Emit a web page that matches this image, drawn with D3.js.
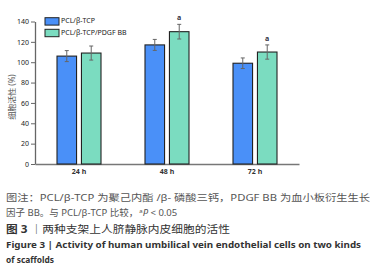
<!DOCTYPE html>
<html>
<head>
<meta charset="utf-8">
<script src="https://cdn.jsdelivr.net/npm/d3@7"></script>
<style>
  body { margin: 0; background: #fff; }
  text { font-family: "Noto Sans", "Noto Sans CJK SC", sans-serif; }
</style>
</head>
<body>
<div id="chart-area"></div>
<script>
// datos del gráfico
var times = ["24 h", "48 h", "72 h"];
var groups = ["PCL/β-TCP", "PCL/β-TCP/PDGF BB"];
var valuesTCP = [106, 117, 99];
var valuesPDGF = [109, 130, 110];
var errTCP = [5.4, 5.4, 5.2];
var errPDGF = [6.9, 7.2, 7.0];
var signif = ["", "a", "a"];
var yTicks = [0, 20, 40, 60, 80, 100, 120, 140];

var colors = ["#4a90f8", "#7bdcc0"];

var width = 382, height = 269;
var svg = d3.select("#chart-area").append("svg")
    .attr("width", width)
    .attr("height", height);

// escalas
var x0 = d3.scaleBand().domain(times).range([35, 299])
    .paddingInner(0.5).paddingOuter(0.25);
var x1 = d3.scaleBand().domain(groups).range([0, x0.bandwidth()])
    .paddingInner(0.2).paddingOuter(0);
var y = d3.scaleLinear().domain([0, 140]).range([164, 21.5]);

var rows = times.map(function(t, i) {
    return [
        { time: t, group: groups[0], value: valuesTCP[i], err: errTCP[i], sig: "" },
        { time: t, group: groups[1], value: valuesPDGF[i], err: errPDGF[i], sig: signif[i] }
    ];
});

// eje Y
var yAxis = svg.append("g")
    .attr("transform", "translate(35,0)")
    .call(d3.axisLeft(y).tickValues(yTicks).tickSizeInner(4).tickSizeOuter(0));
yAxis.select(".domain").attr("stroke", "#666").attr("stroke-width", 1.3);
yAxis.selectAll(".tick line").attr("stroke", "#666");
yAxis.selectAll(".tick text").attr("font-size", 7).attr("fill", "#222").attr("x", -6);

// eje X
var xAxis = svg.append("g")
    .attr("transform", "translate(0,164)")
    .call(d3.axisBottom(x0).tickSize(0));
xAxis.select(".domain").attr("stroke", "#777").attr("stroke-width", 1.3);
xAxis.selectAll(".tick text").attr("font-size", 7).attr("font-weight", "bold")
    .attr("fill", "#333").attr("dy", "0.71em").attr("y", 5);

// etiqueta del eje Y
svg.append("text")
    .attr("transform", "translate(13,97) rotate(-90)")
    .attr("text-anchor", "middle")
    .attr("dominant-baseline", "middle")
    .attr("font-size", 8)
    .attr("fill", "#555")
    .text("细胞活性 (%)");

// barras
var g = svg.selectAll(".grp").data(rows).enter().append("g")
    .attr("class", "grp")
    .attr("transform", function(d) { return "translate(" + x0(d[0].time) + ",0)"; });

g.selectAll("rect").data(function(d) { return d; }).enter().append("rect")
    .attr("x", function(d) { return x1(d.group); })
    .attr("y", function(d) { return y(d.value); })
    .attr("width", x1.bandwidth())
    .attr("height", function(d) { return y(0) - y(d.value); })
    .attr("fill", function(d, i) { return colors[i]; })
    .attr("stroke", "#222")
    .attr("stroke-width", 1.1);

// barras de error
var eb = g.selectAll(".err").data(function(d) { return d; }).enter().append("g")
    .attr("class", "err")
    .attr("stroke", "#666")
    .attr("stroke-width", 1);
eb.append("line")
    .attr("x1", function(d) { return x1(d.group) + x1.bandwidth() / 2; })
    .attr("x2", function(d) { return x1(d.group) + x1.bandwidth() / 2; })
    .attr("y1", function(d) { return y(d.value + d.err); })
    .attr("y2", function(d) { return y(d.value - d.err); });
eb.selectAll(".cap").data(function(d) { return [d.value + d.err, d.value - d.err].map(function(v) { return { v: v, d: d }; }); })
    .enter().append("line")
    .attr("x1", function(c) { return x1(c.d.group) + x1.bandwidth() / 2 - 2; })
    .attr("x2", function(c) { return x1(c.d.group) + x1.bandwidth() / 2 + 2; })
    .attr("y1", function(c) { return y(c.v); })
    .attr("y2", function(c) { return y(c.v); });

// letras de significancia
g.selectAll(".sig").data(function(d) { return d.filter(function(r) { return r.sig; }); })
    .enter().append("text")
    .attr("x", function(d) { return x1(d.group) + x1.bandwidth() / 2; })
    .attr("y", function(d) { return y(d.value + d.err) - 4; })
    .attr("text-anchor", "middle")
    .attr("font-size", 7)
    .attr("font-weight", "bold")
    .attr("fill", "#334")
    .text(function(d) { return d.sig; });

// leyenda
var legend = svg.selectAll(".legend").data(groups).enter().append("g")
    .attr("class", "legend")
    .attr("transform", function(d, i) { return "translate(45," + (17.7 + i * 11.6) + ")"; });
legend.append("rect")
    .attr("width", 14).attr("height", 7.4)
    .attr("fill", function(d, i) { return colors[i]; })
    .attr("stroke", "#222").attr("stroke-width", 1);
legend.append("text")
    .attr("x", 16).attr("y", 3.9)
    .attr("dominant-baseline", "middle")
    .attr("font-size", 7)
    .attr("fill", "#222")
    .text(function(d) { return d; });

// pie de figura
var cap = svg.append("g").attr("transform", "translate(6,0)");
cap.append("text").attr("y", 200.5).attr("font-size", 9.5).attr("fill", "#555")
    .attr("textLength", 364).attr("lengthAdjust", "spacingAndGlyphs")
    .text("图注：PCL/β-TCP 为聚己内酯 /β- 磷酸三钙，PDGF BB 为血小板衍生生长");
var l2a = cap.append("text").attr("y", 215.5).attr("font-size", 9.5).attr("fill", "#555")
    .text("因子 BB。与 PCL/β-TCP 比较，");
var w2 = l2a.node().getComputedTextLength();
var l2b = cap.append("text").attr("x", Math.max(w2 + 1, 124)).attr("y", 215.5)
    .attr("font-size", 9.5).attr("fill", "#555");
l2b.append("tspan").attr("font-size", 6).attr("dy", -3).text("a");
l2b.append("tspan").attr("font-style", "italic").attr("dy", 3).text("P");
l2b.append("tspan").text(" < 0.05");
var l3 = cap.append("text").attr("y", 233).attr("font-size", 10).attr("fill", "#333")
    .attr("textLength", 224).attr("lengthAdjust", "spacingAndGlyphs");
l3.append("tspan").attr("font-weight", "bold").text("图 3 ");
l3.append("tspan").text("｜两种支架上人脐静脉内皮细胞的活性");
cap.append("text").attr("y", 248).attr("font-size", 9.5).attr("font-weight", "bold").attr("fill", "#333")
    .attr("textLength", 355).attr("lengthAdjust", "spacingAndGlyphs")
    .text("Figure 3  |  Activity of human umbilical vein endothelial cells on two kinds");
cap.append("text").attr("y", 262.5).attr("font-size", 9.5).attr("font-weight", "bold").attr("fill", "#333")
    .attr("textLength", 48).attr("lengthAdjust", "spacingAndGlyphs")
    .text("of scaffolds");
</script>
</body>
</html>
